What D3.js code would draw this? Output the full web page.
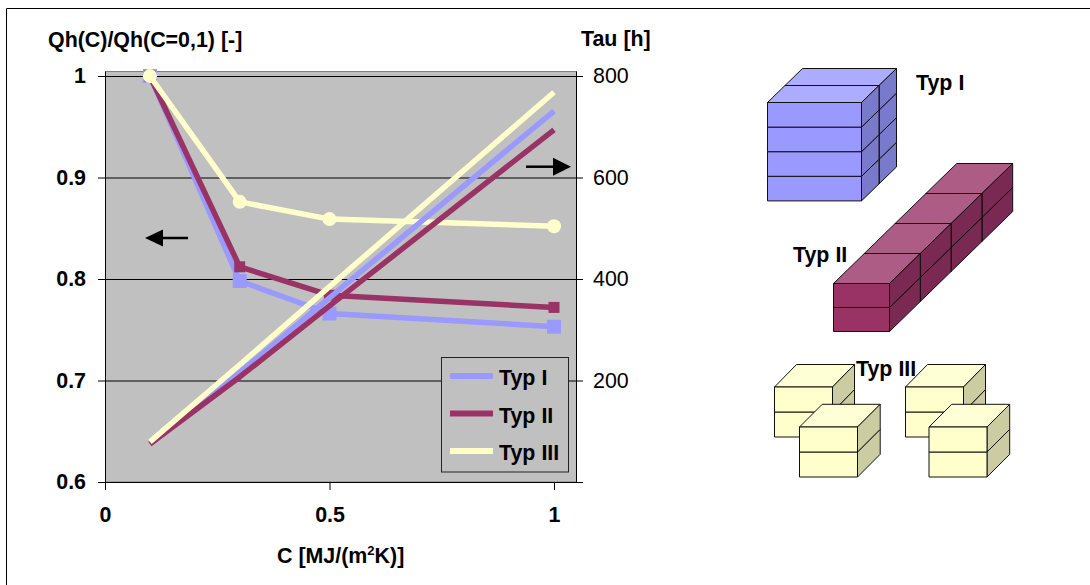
<!DOCTYPE html>
<html><head><meta charset="utf-8">
<script src="https://cdn.jsdelivr.net/npm/d3@7"></script>
<style>
html,body{margin:0;padding:0;background:#fff}
svg{display:block}
text{font-family:"Liberation Sans",Arial,sans-serif;font-size:21.4px;fill:#000}
.b{font-weight:bold}
</style></head><body>
<svg id="c" width="1090" height="585"></svg>
<script>
const cValues = [0.1, 0.3, 0.5, 1];
const seriesNames = ["Typ I", "Typ II", "Typ III"];
const seriesColors = ["#9999ff", "#993366", "#ffffcc"];
const qhTyp1 = [1, 0.798, 0.766, 0.753];
const qhTyp2 = [1, 0.812, 0.784, 0.772];
const qhTyp3 = [1, 0.876, 0.859, 0.852];
const tauTyp1 = [77, 216, 363, 731];
const tauTyp2 = [75, 207, 347, 694];
const tauTyp3 = [79, 231, 385, 768];
const xTicks = [0, 0.5, 1];
const qhTicks = [0.6, 0.7, 0.8, 0.9, 1];
const tauTicks = [200, 400, 600, 800];

const svg = d3.select("#c");
const x = d3.scaleLinear().domain([0, 1]).range([105, 554]);
const yQ = d3.scaleLinear().domain([0.6, 1]).range([482, 76]);
const yT = d3.scaleLinear().domain([0, 800]).range([482, 76]);
const plot = {l: x(0), r: 576, t: 71.5, b: yQ(0.6)};

// page frame (top and left rules only)
svg.append("path").attr("d", "M6.5,585V8.5H1090").attr("fill", "none").attr("stroke", "#000").attr("stroke-width", 1);

// plot area
svg.append("rect").attr("x", plot.l + .5).attr("y", plot.t).attr("width", plot.r - plot.l).attr("height", plot.b - plot.t)
  .attr("fill", "#c0c0c0").attr("stroke", "#808080");

// gridlines
svg.append("g").selectAll("line").data(qhTicks.slice(1)).join("line")
  .attr("x1", plot.l).attr("x2", plot.r).attr("y1", d => yQ(d) + .5).attr("y2", d => yQ(d) + .5)
  .attr("stroke", "#000").attr("stroke-width", 1);

function styleAxis(g, bold) {
  g.select(".domain").attr("stroke", "#000");
  g.selectAll(".tick line").attr("stroke", "#000");
  g.selectAll("text").attr("fill", "#000")
    .attr("font-weight", bold ? "bold" : "normal");
}

const axL = svg.append("g").attr("transform", `translate(${plot.l},0)`)
  .call(d3.axisLeft(yQ).tickValues(qhTicks).tickFormat(d3.format("~g")).tickSize(7).tickSizeOuter(0).tickPadding(12));
styleAxis(axL, true);
axL.select(".domain").attr("d", `M0.5,${plot.t}V${plot.b}`);

const axR = svg.append("g").attr("transform", `translate(${plot.r},0)`)
  .call(d3.axisRight(yT).tickValues(tauTicks).tickSize(7).tickSizeOuter(0).tickPadding(10));
styleAxis(axR, false);
axR.select(".domain").attr("d", `M0.5,${plot.t}V${plot.b}`);

const axB = svg.append("g").attr("transform", `translate(0,${plot.b})`)
  .call(d3.axisBottom(x).tickValues(xTicks).tickFormat(d3.format("~g")).tickSize(8).tickSizeOuter(0).tickPadding(17));
styleAxis(axB, true);
axB.select(".domain").attr("d", `M${plot.l - 7},0.5H${plot.r + 7}`);

// series
const lineQ = d3.line().x((d, i) => x(cValues[i])).y(d => yQ(d));
const lineT = d3.line().x((d, i) => x(cValues[i])).y(d => yT(d));
const qhAll = [qhTyp1, qhTyp2, qhTyp3];
const tauAll = [tauTyp1, tauTyp2, tauTyp3];

qhAll.forEach((vals, s) => {
  const g = svg.append("g");
  g.append("path").attr("d", lineQ(vals)).attr("fill", "none")
    .attr("stroke", seriesColors[s]).attr("stroke-width", 5.5).attr("stroke-linejoin", "round");
  if (s === 2) {
    g.selectAll("circle").data(vals).join("circle")
      .attr("cx", (d, i) => x(cValues[i])).attr("cy", d => yQ(d)).attr("r", 7).attr("fill", seriesColors[s]);
  } else {
    const size = s === 0 ? 14 : 11;
    g.selectAll("rect").data(vals).join("rect")
      .attr("x", (d, i) => x(cValues[i]) - size / 2).attr("y", d => yQ(d) - size / 2)
      .attr("width", size).attr("height", size).attr("fill", seriesColors[s]);
  }
});
tauAll.forEach((vals, s) => {
  svg.append("path").attr("d", lineT(vals)).attr("fill", "none")
    .attr("stroke", seriesColors[s]).attr("stroke-width", 5.5).attr("stroke-linejoin", "round");
});

// direction arrows
function arrow(x0, x1, y, hl, hh) {
  const dir = x1 > x0 ? 1 : -1;
  svg.append("line").attr("x1", x0).attr("x2", x1 - dir * hl).attr("y1", y).attr("y2", y)
    .attr("stroke", "#000").attr("stroke-width", 2.5);
  svg.append("path").attr("d", `M${x1},${y}L${x1 - dir * hl},${y - hh}V${y + hh}Z`).attr("fill", "#000");
}
arrow(188, 145, 238, 18, 8.5);
arrow(526, 571, 166.7, 18, 9);

// legend
const legend = svg.append("g");
legend.append("rect").attr("x", 441.5).attr("y", 357.5).attr("width", 127).attr("height", 114.5)
  .attr("fill", "#c0c0c0").attr("stroke", "#222");
const legendY = d3.scalePoint().domain(seriesNames).range([376, 451]);
seriesNames.forEach((n, s) => {
  legend.append("line").attr("x1", 450).attr("x2", 493).attr("y1", legendY(n)).attr("y2", legendY(n))
    .attr("stroke", seriesColors[s]).attr("stroke-width", 6);
  legend.append("text").attr("class", "b").attr("x", 499).attr("y", legendY(n) + 9).text(n);
});

// axis titles
svg.append("text").attr("class", "b").attr("x", 48).attr("y", 47).text("Qh(C)/Qh(C=0,1) [-]");
svg.append("text").attr("class", "b").attr("x", 581).attr("y", 46).text("Tau [h]");
const xt = svg.append("text").attr("class", "b").attr("x", 277).attr("y", 562.5);
xt.append("tspan").text("C [MJ/(m");
xt.append("tspan").attr("dy", -8).style("font-size", "13px").text("2");
xt.append("tspan").attr("dy", 8).text("K)]");

// cuboid illustrations
function box(px, py, w, h, dx, dy, c) {
  const g = svg.append("g").attr("stroke", "#111").attr("stroke-width", 1).attr("stroke-linejoin", "round");
  g.append("path").attr("fill", c.top).attr("d", `M${px},${py}l${dx},${-dy}h${w}l${-dx},${dy}Z`);
  g.append("path").attr("fill", c.side).attr("d", `M${px + w},${py}l${dx},${-dy}v${h}l${-dx},${dy}Z`);
  g.append("rect").attr("fill", c.front).attr("x", px).attr("y", py).attr("width", w).attr("height", h);
}
function stack(px, py, w, h, dx, dy, depthN, layers, c) {
  for (let d = depthN - 1; d >= 0; d--) {
    for (let l = layers - 1; l >= 0; l--) {
      box(px + d * dx, py - d * dy + l * h, w, h, dx, dy, c);
    }
  }
}
const blue = {front: "#9999ff", top: "#adadff", side: "#7a7acc"};
const wine = {front: "#993366", top: "#ad5c85", side: "#7a2952"};
const cream = {front: "#ffffcc", top: "#ffffd6", side: "#cccca3"};
stack(767.5, 102.5, 94, 24.6, 17.5, 17, 2, 4, blue);
stack(833.5, 283.5, 56, 24, 30.8, 30, 4, 2, wine);
stack(774.5, 387, 58, 25, 22, 22.5, 1, 2, cream);
stack(905.5, 387, 58, 25, 22, 22.5, 1, 2, cream);
stack(799.5, 427, 58, 25, 22.7, 22.7, 1, 2, cream);
stack(929, 427, 58, 25, 22.7, 22.7, 1, 2, cream);

svg.append("text").attr("class", "b").attr("x", 916).attr("y", 90).text("Typ I");
svg.append("text").attr("class", "b").attr("x", 793).attr("y", 262).text("Typ II");
svg.append("text").attr("class", "b").attr("x", 856).attr("y", 376).text("Typ III");
</script>
</body></html>
